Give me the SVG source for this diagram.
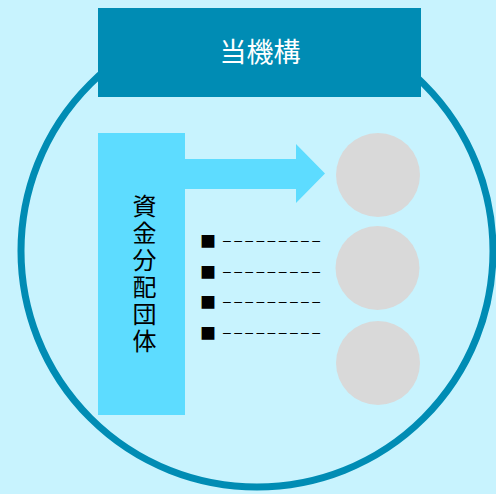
<svg xmlns="http://www.w3.org/2000/svg" width="496" height="494" viewBox="0 0 496 494">
<style>
.cjk{font-family:"Noto Sans CJK JP","Noto Sans CJK SC",sans-serif}
.v{font-size:24px;fill:#000;writing-mode:vertical-rl;letter-spacing:3px}
.sq{font-size:16px;fill:#000}
.dash{font-family:"Liberation Sans",sans-serif;font-size:14px;fill:#000}
.ball{fill:#d9d9d9}
</style>
<rect x="0" y="0" width="496" height="494" fill="#c8f3fe"/>
<g id="ring"><circle cx="257" cy="251" r="236" fill="none" stroke="#008cb4" stroke-width="7"/></g>
<g id="header">
<rect x="98" y="8" width="323" height="89" fill="#008cb4"/>
<text x="260" y="62" class="cjk" font-size="27" fill="#fff" text-anchor="middle">当機構</text>
</g>
<g id="connectors">
<polygon points="185,159 296,159 296,144 325,173.5 296,203 296,189 185,189" fill="#5ddcff"/>
</g>
<g id="funder">
<rect x="98" y="133" width="87" height="282" fill="#5ddcff"/>
<text class="cjk v" x="144.5" y="194">資金分配団体</text>
</g>
<g id="list">
<text class="cjk sq" x="200" y="247">■</text>
<text class="dash" x="223" y="245" textLength="97" lengthAdjust="spacing">–––––––––</text>
<text class="cjk sq" x="200" y="278">■</text>
<text class="dash" x="223" y="276" textLength="97" lengthAdjust="spacing">–––––––––</text>
<text class="cjk sq" x="200" y="308">■</text>
<text class="dash" x="223" y="306" textLength="97" lengthAdjust="spacing">–––––––––</text>
<text class="cjk sq" x="200" y="339">■</text>
<text class="dash" x="223" y="337" textLength="97" lengthAdjust="spacing">–––––––––</text>
</g>
<g id="member1"><circle class="ball" cx="378" cy="175" r="42"/></g>
<g id="member2"><circle class="ball" cx="377.5" cy="268" r="42"/></g>
<g id="member3"><circle class="ball" cx="378" cy="363" r="42"/></g>
</svg>
